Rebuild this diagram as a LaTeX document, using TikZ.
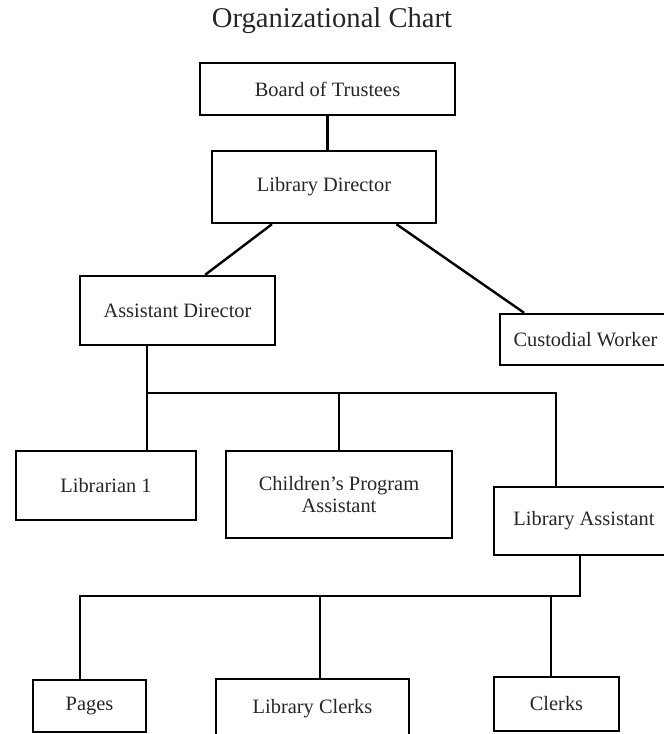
\documentclass[tikz,border=0pt]{standalone}
\usepackage{fontspec}
\setmainfont{Liberation Serif}
\usepackage{tikz}
\usetikzlibrary{calc,positioning}
\tikzset{
    %Define style for boxes
    chartbox/.style={
           rectangle,
           draw=black, line width=1.2pt,
           inner sep=0pt,
           font=\fontsize{10.2}{11}\selectfont,
           text=black!85,
           align=center},
    %Define style for the heading
    heading/.style={
           font=\fontsize{14.3}{17}\selectfont,
           text=black!85,
           anchor=base},
    % Define connector style
    link/.style={
           -,
           line width=1.2pt}
}
\begin{document}
\begin{tikzpicture}[x=0.5pt,y=-0.5pt,auto]
\useasboundingbox (0,0) rectangle (664,734);
 %nodes
\node[heading](t) at (332,27){Organizational Chart};
\node[chartbox, minimum width=127.5pt, minimum height=26pt](1) at (327.5,89){Board of Trustees};
\node[chartbox, minimum width=112pt, minimum height=36pt](2) at (324,187){Library Director};
\node[chartbox, minimum width=97.5pt, minimum height=34.5pt](3) at (177.5,310.5){Assistant Director};
\node[chartbox, minimum width=85.5pt, minimum height=25.5pt](4) at (585.5,339.5){Custodial Worker};
\node[chartbox, minimum width=90pt, minimum height=34.5pt](5) at (106,485.5){Librarian 1};
\node[chartbox, minimum width=113pt, minimum height=43.5pt](6) at (339,494.5){Children's Program\\Assistant};
\node[chartbox, minimum width=90pt, minimum height=34pt](7) at (584,521){Library Assistant};
\node[chartbox, minimum width=56.5pt, minimum height=26pt](8) at (89.5,706){Pages};
\node[chartbox, minimum width=96.5pt, minimum height=30pt](9) at (312.5,709){Library Clerks};
\node[chartbox, minimum width=62.5pt, minimum height=27pt](10) at (556.5,704){Clerks};
 %bus points
\coordinate (b1) at (147,393);
\coordinate (b2) at (556,393);
\coordinate (b3) at (80,596);
\coordinate (b4) at (580,596);
\coordinate (b5) at (320,596);
\coordinate (b6) at (551,596);
 %connectors
\draw[link] (1.south) -- (1.south |- 2.north);
\draw[link] ($(2.south west)!0.27!(2.south east)$) -- ($(3.north west)!0.64!(3.north east)$);
\draw[link] ($(2.south west)!0.82!(2.south east)$) -- ($(4.north west)!0.146!(4.north east)$);
\draw[link] (3.south -| b1) -- (5.north -| b1);
\draw[link] (b1) -- (b2) -- (7.north -| b2);
\draw[link] (6.north) -- (6.north |- b1);
\draw[link] (7.south -| b4) -- (b4) -- (b3) -- (8.north -| b3);
\draw[link] (b5) -- (9.north -| b5);
\draw[link] (b6) -- (10.north -| b6);
\end{tikzpicture}
\end{document}
